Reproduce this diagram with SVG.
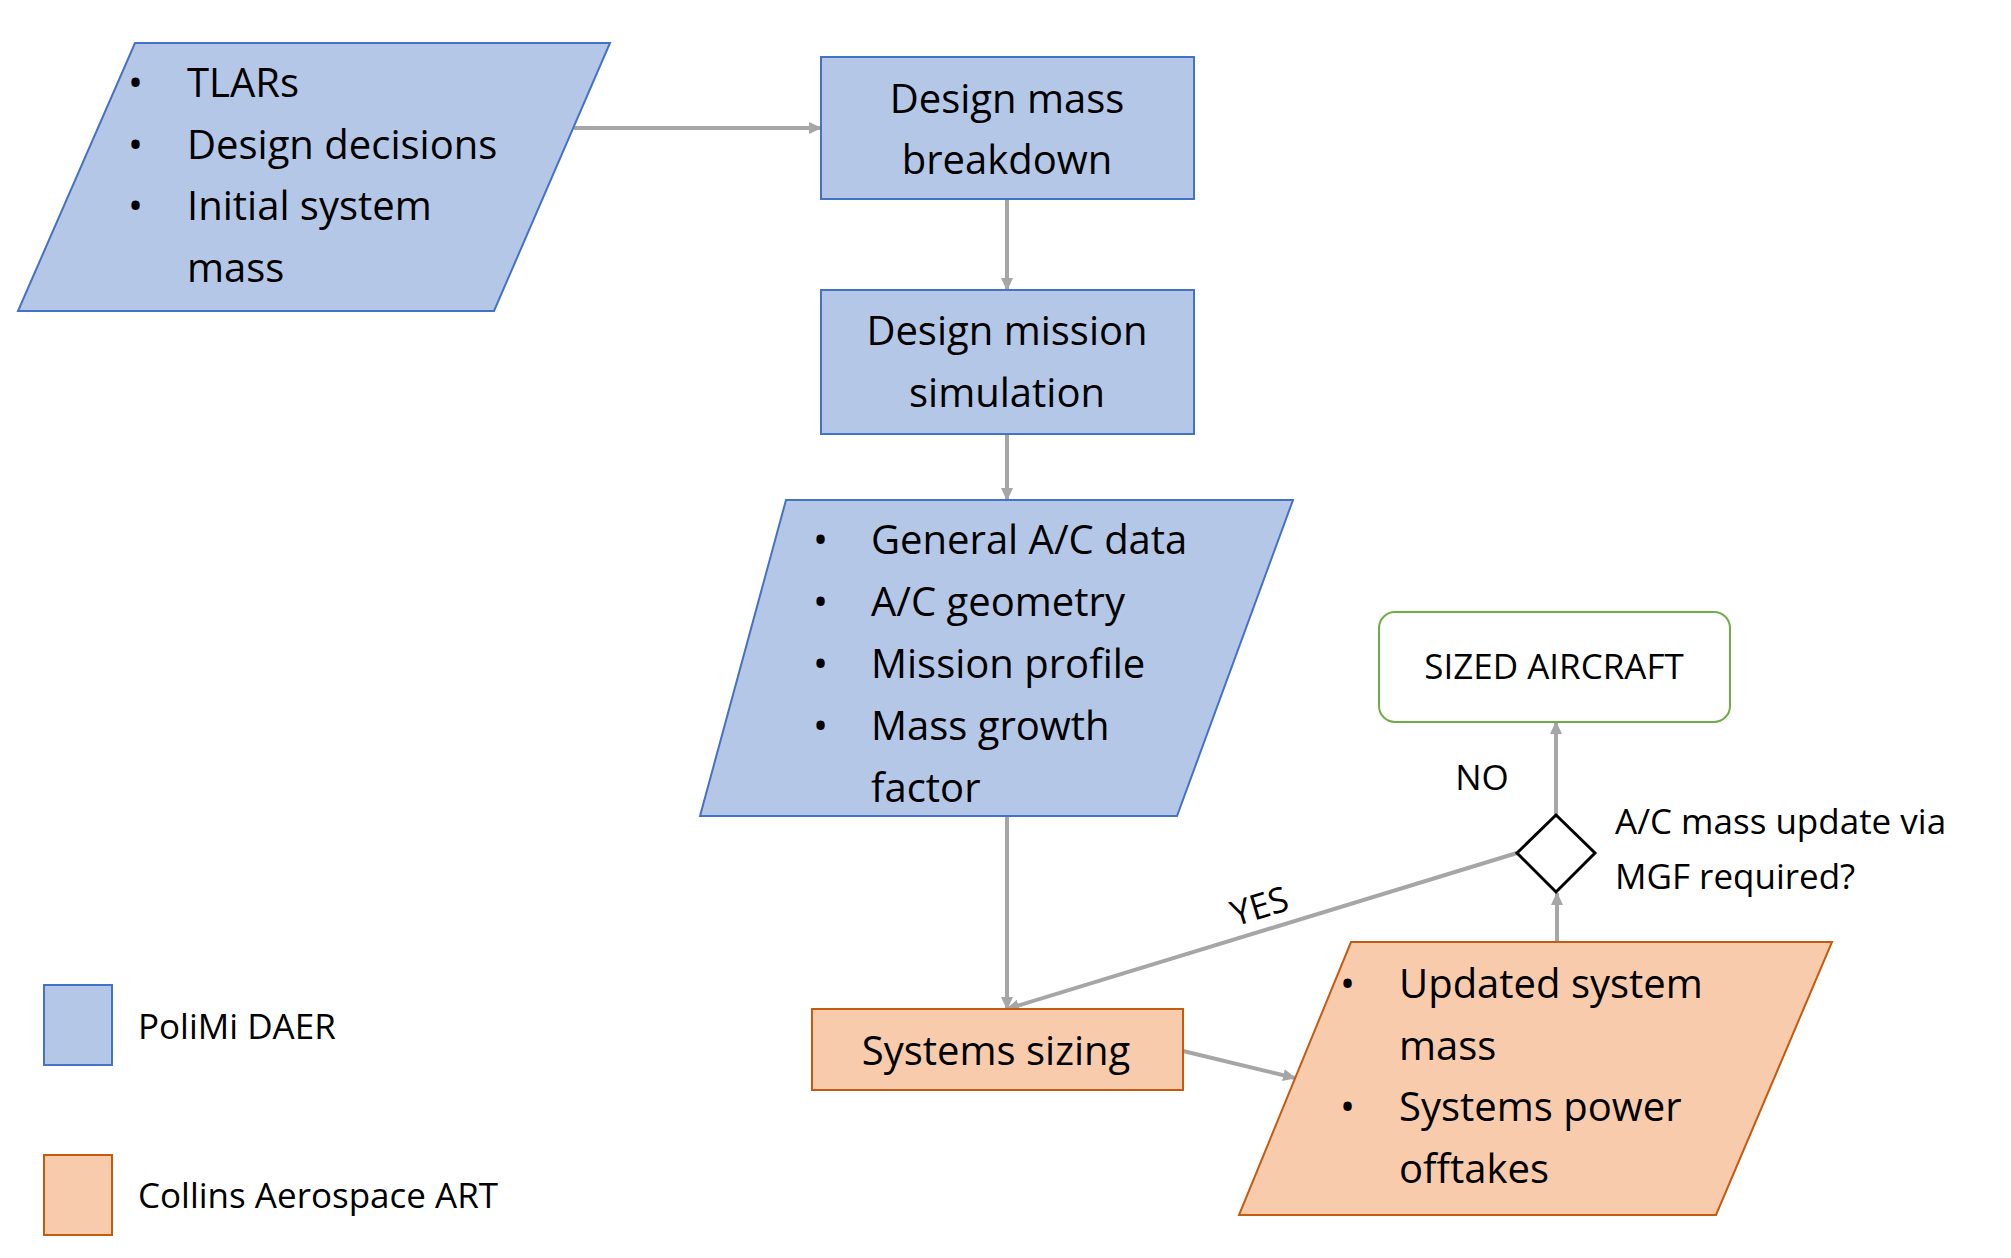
<svg xmlns="http://www.w3.org/2000/svg" width="2011" height="1258" viewBox="0 0 2011 1258">
<style>
.b{fill:#B4C7E7;stroke:#4472C4;stroke-width:2}
.o{fill:#F8CBAD;stroke:#C55A11;stroke-width:2}
text{font-family:"Open Sans","Liberation Sans",sans-serif;fill:#000}
.t{font-size:40px}
.s{font-size:35px}
.c{stroke:#A6A6A6;stroke-width:4;fill:none;marker-end:url(#a)}
</style>
<defs><marker id="a" markerWidth="8" markerHeight="8" refX="7" refY="4" orient="auto" markerUnits="userSpaceOnUse" viewBox="0 0 8 8"><path d="M0,0 L8,4 L0,8z" fill="#A6A6A6"/></marker>
<marker id="a2" markerWidth="14" markerHeight="14" refX="12" refY="7" orient="auto" markerUnits="userSpaceOnUse"><path d="M0,1 L13,7 L0,13z" fill="#A6A6A6"/></marker></defs>
<rect width="2011" height="1258" fill="#fff"/>
<g id="connectors">
<path class="c" style="marker-end:url(#a2)" d="M574,128 L821,128"/>
<path class="c" style="marker-end:url(#a2)" d="M1007,199 L1007,290"/>
<path class="c" style="marker-end:url(#a2)" d="M1007,434 L1007,500"/>
<path class="c" style="marker-end:url(#a2)" d="M1007,816 L1007,1009"/>
<path class="c" style="marker-end:url(#a2)" d="M1183,1051 L1295,1078"/>
<path class="c" style="marker-end:url(#a2)" d="M1557,942 L1557,893"/>
<path class="c" style="marker-end:url(#a2)" d="M1556,815 L1556,722"/>
<path class="c" style="marker-end:url(#a2)" d="M1517,853 L1007,1009"/>
<text class="s" x="1482" y="790" text-anchor="middle">NO</text>
<text class="s" transform="translate(1263,918) rotate(-17)" text-anchor="middle">YES</text>
</g>
<g id="inputs">
<polygon class="b" points="135,43 610,43 494,311 18,311"/>
<text class="t" x="128" y="97">•</text><text class="t" x="187" y="97">TLARs</text>
<text class="t" x="128" y="159">•</text><text class="t" x="187" y="159">Design decisions</text>
<text class="t" x="128" y="220">•</text><text class="t" x="187" y="220">Initial system</text>
<text class="t" x="187" y="282">mass</text>
</g>
<g id="mass-breakdown">
<rect class="b" x="821" y="57" width="373" height="142"/>
<text class="t" x="1007" y="113" text-anchor="middle">Design mass</text>
<text class="t" x="1007" y="174" text-anchor="middle">breakdown</text>
</g>
<g id="mission-sim">
<rect class="b" x="821" y="290" width="373" height="144"/>
<text class="t" x="1007" y="345" text-anchor="middle">Design mission</text>
<text class="t" x="1007" y="407" text-anchor="middle">simulation</text>
</g>
<g id="ac-data">
<polygon class="b" points="786,500 1293,500 1177,816 700,816"/>
<text class="t" x="813" y="554">•</text><text class="t" x="871" y="554">General A/C data</text>
<text class="t" x="813" y="616">•</text><text class="t" x="871" y="616">A/C geometry</text>
<text class="t" x="813" y="678">•</text><text class="t" x="871" y="678">Mission profile</text>
<text class="t" x="813" y="740">•</text><text class="t" x="871" y="740">Mass growth</text>
<text class="t" x="871" y="802">factor</text>
</g>
<g id="sized">
<rect x="1379" y="612" width="351" height="110" rx="16" fill="#fff" stroke="#70AD47" stroke-width="2"/>
<text class="s" x="1554" y="679" text-anchor="middle">SIZED AIRCRAFT</text>
</g>
<g id="decision">
<polygon points="1556,815 1595,853 1556,892 1517,853" fill="#fff" stroke="#000" stroke-width="3"/>
<text class="s" x="1615" y="834">A/C mass update via</text>
<text class="s" x="1615" y="889">MGF required?</text>
</g>
<g id="systems-sizing">
<rect class="o" x="812" y="1009" width="371" height="81"/>
<text class="t" x="996" y="1065" text-anchor="middle">Systems sizing</text>
</g>
<g id="outputs">
<polygon class="o" points="1351,942 1832,942 1716,1215 1239,1215"/>
<text class="t" x="1340" y="998">•</text><text class="t" x="1399" y="998">Updated system</text>
<text class="t" x="1399" y="1060">mass</text>
<text class="t" x="1340" y="1121">•</text><text class="t" x="1399" y="1121">Systems power</text>
<text class="t" x="1399" y="1183">offtakes</text>
</g>
<g id="legend">
<rect class="b" x="44" y="985" width="68" height="80"/>
<text class="s" x="138" y="1039">PoliMi DAER</text>
<rect class="o" x="44" y="1155" width="68" height="80"/>
<text class="s" x="138" y="1208">Collins Aerospace ART</text>
</g>
</svg>
